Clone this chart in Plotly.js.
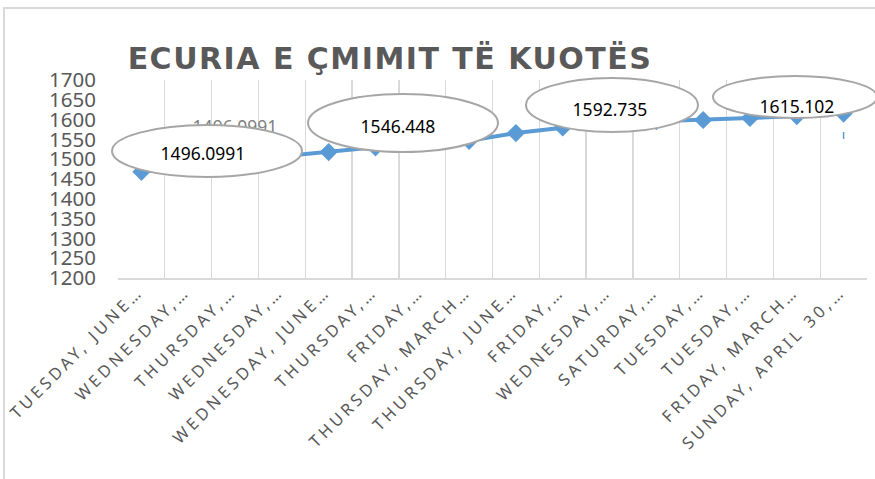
<!DOCTYPE html>
<html>
<head>
<meta charset="utf-8">
<script src="https://cdn.plot.ly/plotly-3.0.1.min.js"></script>
<style>
  html, body { margin: 0; padding: 0; background: #fff; }
  #chart { width: 875px; height: 479px; }
  .xtick text { letter-spacing: 3.6px; }
  .gtitle { letter-spacing: 1.5px; }
</style>
</head>
<body>
<div id="chart"></div>
<script>
// ---- data ----
var labels = [
  "TUESDAY, JUNE…", "WEDNESDAY,…", "THURSDAY,…", "WEDNESDAY,…",
  "WEDNESDAY, JUNE…", "THURSDAY,…", "FRIDAY,…", "THURSDAY, MARCH…",
  "THURSDAY, JUNE…", "FRIDAY,…", "WEDNESDAY,…", "SATURDAY,…",
  "TUESDAY,…", "TUESDAY,…", "FRIDAY, MARCH…", "SUNDAY, APRIL 30,…"
];
var values = [1468, 1485, 1496.0991, 1508, 1518, 1530, 1540, 1546.448,
              1566, 1580, 1592.735, 1596, 1599, 1604, 1609, 1615.102];
var labelledIdx = [2, 7, 10, 15];   // points whose value is shown in a callout
var titleText = "ECURIA E ÇMIMIT TË KUOTËS";

// ---- derived ----
var idx = labels.map(function (_, i) { return i; });
var bounds = idx.map(function (i) { return i - 0.5; }).concat([labels.length - 0.5]);

// plot area in pixels (for placing callouts)
var L = 118, R = 867, T = 80, B = 278;
function px(x) { return (x - L) / (R - L); }
function py(y) { return (B - y) / (B - T); }

var gray = '#595959';
var calloutFont = { family: 'Noto Sans, sans-serif', size: 17.5, color: '#000000' };

// callout geometry (pixels): ellipse centre/radii and text centre
var callouts = [
  { cx: 207, cy: 151, rx: 95, ry: 26, tx: 203, ty: 154 },
  { cx: 403, cy: 123, rx: 95, ry: 29, tx: 398, ty: 127 },
  { cx: 612, cy: 105, rx: 86, ry: 27, tx: 610, ty: 110 },
  { cx: 795, cy: 97,  rx: 82, ry: 21, tx: 797, ty: 107 }
];

var shapes = [];
// outer chart frame
shapes.push({ type: 'rect', xref: 'paper', yref: 'paper', layer: 'below',
  x0: px(4), x1: px(920), y0: py(8), y1: py(520),
  line: { color: '#d9d9d9', width: 2 }, fillcolor: 'rgba(0,0,0,0)' });
// faint original label (left behind the first callout)
shapes.push({ type: 'rect', xref: 'paper', yref: 'paper', layer: 'above',
  x0: px(185), x1: px(285), y0: py(137), y1: py(117),
  line: { width: 0 }, fillcolor: 'rgba(0,0,0,0)',
  label: { text: String(values[labelledIdx[0]]), textposition: 'middle center',
           font: { family: 'Noto Sans, sans-serif', size: 17.5, color: '#7f7f7f' } } });
callouts.forEach(function (c, k) {
  shapes.push({ type: 'circle', xref: 'paper', yref: 'paper', layer: 'above',
    x0: px(c.cx - c.rx), x1: px(c.cx + c.rx), y0: py(c.cy + c.ry), y1: py(c.cy - c.ry),
    line: { color: '#a6a6a6', width: 2 }, fillcolor: '#ffffff' });
  shapes.push({ type: 'rect', xref: 'paper', yref: 'paper', layer: 'above',
    x0: px(c.tx - 50), x1: px(c.tx + 50), y0: py(c.ty + 10), y1: py(c.ty - 10),
    line: { width: 0 }, fillcolor: 'rgba(0,0,0,0)',
    label: { text: String(values[labelledIdx[k]]), textposition: 'middle center', font: calloutFont } });
});
// small leader tick under the last point
shapes.push({ type: 'line', xref: 'x', yref: 'paper', layer: 'above',
  x0: idx[idx.length - 1], x1: idx[idx.length - 1], y0: py(139), y1: py(132),
  line: { color: '#5b9bd5', width: 1.5 } });

var trace = {
  type: 'scatter', mode: 'lines+markers',
  x: idx, y: values,
  line: { color: '#5b9bd5', width: 4 },
  marker: { symbol: 'diamond', size: 14, color: '#5b9bd5' },
  hoverinfo: 'skip', showlegend: false
};

var layout = {
  width: 875, height: 479,
  margin: { l: L, r: 875 - R, t: T, b: 479 - B, pad: 0 },
  paper_bgcolor: '#ffffff', plot_bgcolor: '#ffffff',
  showlegend: false,
  title: {
    text: titleText,
    font: { family: 'DejaVu Sans, sans-serif', size: 30, weight: 'bold', color: gray },
    xref: 'container', yref: 'container',
    x: 390 / 875, xanchor: 'center', y: 1 - 58 / 479, yanchor: 'middle'
  },
  xaxis: {
    type: 'linear', range: [-0.5, labels.length - 0.5], fixedrange: true,
    tickmode: 'array', tickvals: idx, ticktext: labels, tickangle: -45,
    tickfont: { family: 'Noto Sans, sans-serif', size: 16.5, color: gray },
    ticks: '', ticklabelstandoff: -4, ticklabelshift: -3,
    showgrid: false, zeroline: false,
    showline: true, linecolor: '#d9d9d9', linewidth: 1.5,
    minor: { tickmode: 'array', tickvals: bounds, showgrid: true,
             gridcolor: '#d9d9d9', gridwidth: 1.3, ticks: '' }
  },
  yaxis: {
    range: [1200, 1700], dtick: 50, tick0: 1200, fixedrange: true,
    tickfont: { family: 'Noto Sans, sans-serif', size: 20.5, color: gray },
    ticks: '', ticklabelstandoff: 21,
    showgrid: false, zeroline: false, showline: false
  },
  shapes: shapes
};

Plotly.newPlot('chart', [trace], layout, { displayModeBar: false, staticPlot: true });
</script>
</body>
</html>
